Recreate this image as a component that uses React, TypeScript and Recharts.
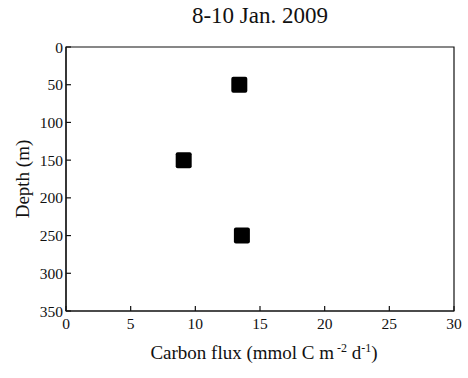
import {
  ScatterChart,
  Scatter,
  XAxis,
  YAxis,
  ReferenceArea,
  Label,
} from 'recharts';

// values
const fluxValues = [13.4, 9.1, 13.6];
const depthValues = [50, 150, 250];
const xTicks = [0, 5, 10, 15, 20, 25, 30];
const yTicks = [0, 50, 100, 150, 200, 250, 300, 350];
const title = '8-10 Jan. 2009';

const points = fluxValues.map((flux, i) => ({ flux, depth: depthValues[i] }));

const FONT = '"Liberation Serif", "DejaVu Serif", serif';
const INK = '#111';

// MATLAB-style ticks: short line pointing into the plot, label outside
// eslint-disable-next-line @typescript-eslint/no-explicit-any
const YTick = (props: any) => {
  const { x, y, payload } = props;
  return (
    <g>
      <line x1={x} y1={y} x2={x + 5} y2={y} stroke={INK} strokeWidth={1.2} />
      <text
        x={x - 3}
        y={y}
        textAnchor="end"
        dominantBaseline="central"
        fontFamily={FONT}
        fontSize={15.5}
        fill={INK}
      >
        {payload.value}
      </text>
    </g>
  );
};

// eslint-disable-next-line @typescript-eslint/no-explicit-any
const XTick = (props: any) => {
  const { x, y, payload } = props;
  return (
    <g>
      <line x1={x} y1={y} x2={x} y2={y - 5} stroke={INK} strokeWidth={1.2} />
      <text
        x={x}
        y={y + 18}
        textAnchor="middle"
        fontFamily={FONT}
        fontSize={15.5}
        fill={INK}
      >
        {payload.value}
      </text>
    </g>
  );
};

// eslint-disable-next-line @typescript-eslint/no-explicit-any
const SquareMarker = (props: any) => {
  const { cx, cy } = props;
  return <rect x={cx - 8} y={cy - 8} width={16} height={16} rx={2} fill="#000" />;
};

export default function App() {
  return (
    <div style={{ position: 'absolute', left: 0, top: 0, width: 468, height: 378, background: '#fff' }}>
      <div
        style={{
          position: 'absolute',
          left: 66,
          width: 388,
          top: 3,
          textAlign: 'center',
          fontFamily: FONT,
          fontSize: 23,
          color: INK,
          lineHeight: '26px',
        }}
      >
        {title}
      </div>
      <ScatterChart width={468} height={378} margin={{ top: 47, right: 14, left: 0, bottom: 0 }}>
        <XAxis
          type="number"
          dataKey="flux"
          domain={[0, 30]}
          ticks={xTicks}
          height={67}
          stroke={INK}
          strokeWidth={1.2}
          tickLine={false}
          tickSize={0}
          tickMargin={0}
          tick={<XTick />}
        >
          <Label
            // eslint-disable-next-line @typescript-eslint/no-explicit-any
            content={(p: any) => {
              const vb = p.viewBox;
              return (
                <text
                  x={vb.x + vb.width / 2 + 4}
                  y={vb.y + 48}
                  textAnchor="middle"
                  fontFamily={FONT}
                  fontSize={19}
                  fill={INK}
                >
                  Carbon flux (mmol C m
                  <tspan dx={3} dy={-7} fontSize={12}>-2</tspan>
                  <tspan dy={7}> d</tspan>
                  <tspan dy={-7} fontSize={12}>-1</tspan>
                  <tspan dy={7}>)</tspan>
                </text>
              );
            }}
          />
        </XAxis>
        <YAxis
          type="number"
          dataKey="depth"
          domain={[0, 350]}
          ticks={yTicks}
          reversed
          width={66}
          stroke={INK}
          strokeWidth={1.2}
          tickLine={false}
          tickSize={0}
          tickMargin={0}
          tick={<YTick />}
        >
          <Label
            // eslint-disable-next-line @typescript-eslint/no-explicit-any
            content={(p: any) => {
              const vb = p.viewBox;
              const cx = vb.x + 22;
              const cy = vb.y + vb.height / 2;
              return (
                <text
                  x={cx}
                  y={cy}
                  transform={`rotate(-90 ${cx} ${cy})`}
                  textAnchor="middle"
                  dominantBaseline="central"
                  fontFamily={FONT}
                  fontSize={19}
                  fill={INK}
                >
                  Depth (m)
                </text>
              );
            }}
          />
        </YAxis>
        <ReferenceArea x1={0} x2={30} y1={0} y2={350} stroke={INK} strokeWidth={1.2} fill="none" fillOpacity={0} />
        <Scatter data={points} fill="#000" shape={<SquareMarker />} isAnimationActive={false} />
      </ScatterChart>
    </div>
  );
}
